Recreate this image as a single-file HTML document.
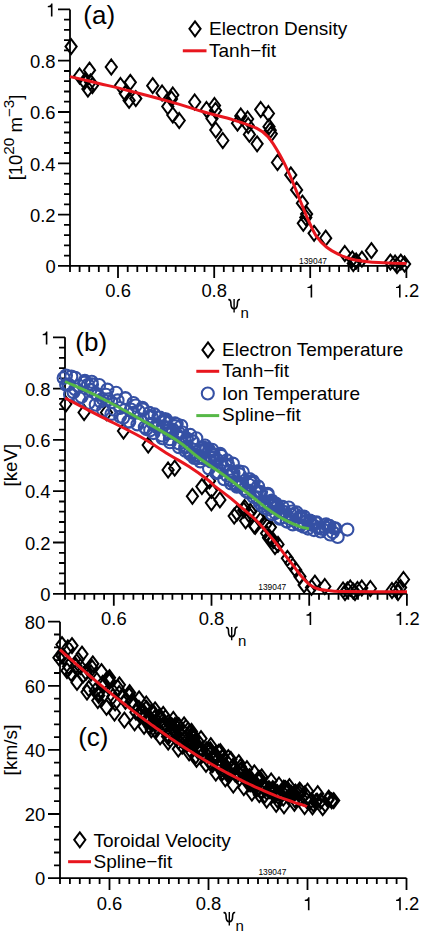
<!DOCTYPE html><html><head><meta charset="utf-8"><style>html,body{margin:0;padding:0;background:#fff;width:421px;height:938px;overflow:hidden}svg{display:block}.t{font-family:"Liberation Sans", sans-serif;font-size:18.4px;fill:#000}.yl{font-family:"Liberation Sans", sans-serif;font-size:17.5px;fill:#000}.l{font-family:"Liberation Sans", sans-serif;font-size:19px;fill:#000}.s{font-family:"Liberation Sans", sans-serif;font-size:8.4px;fill:#000}.big{font-family:"Liberation Sans", sans-serif;font-size:26px;fill:#000}.sub{font-family:"Liberation Sans", sans-serif;font-size:15px;fill:#000}</style></head><body><svg width="421" height="938" viewBox="0 0 421 938">
<path d="M70 9.4V265.9H406.3M58 265.9H70M64 255.6H70M64 245.4H70M64 235.1H70M64 224.9H70M58 214.6H70M64 204.3H70M64 194.1H70M64 183.8H70M64 173.6H70M58 163.3H70M64 153H70M64 142.8H70M64 132.5H70M64 122.3H70M58 112H70M64 101.7H70M64 91.5H70M64 81.2H70M64 71H70M58 60.7H70M64 50.4H70M64 40.2H70M64 29.9H70M64 19.7H70M58 9.4H70M70 265.9V271.9M79.6 265.9V271.9M89.2 265.9V271.9M98.8 265.9V271.9M108.4 265.9V271.9M118 265.9V277.9M127.7 265.9V271.9M137.3 265.9V271.9M146.9 265.9V271.9M156.5 265.9V271.9M166.1 265.9V271.9M175.7 265.9V271.9M185.3 265.9V271.9M194.9 265.9V271.9M204.5 265.9V271.9M214.2 265.9V277.9M223.8 265.9V271.9M233.4 265.9V271.9M243 265.9V271.9M252.6 265.9V271.9M262.2 265.9V271.9M271.8 265.9V271.9M281.4 265.9V271.9M291 265.9V271.9M300.6 265.9V271.9M310.2 265.9V277.9M319.9 265.9V271.9M329.5 265.9V271.9M339.1 265.9V271.9M348.7 265.9V271.9M358.3 265.9V271.9M367.9 265.9V271.9M377.5 265.9V271.9M387.1 265.9V271.9M396.7 265.9V271.9M406.4 265.9V277.9" fill="none" stroke="#000" stroke-width="1.8" stroke-linecap="butt"/>
<text x="45.4" y="273.1" class="t">0</text>
<text x="30" y="221.8" class="t">0.2</text>
<text x="30" y="170.5" class="t">0.4</text>
<text x="30" y="119.2" class="t">0.6</text>
<text x="30" y="67.9" class="t">0.8</text>
<path d="M52.5 16.6L52.5 3.6L51.2 3.6C50.9 5 49.8 6 47.8 6.1L47.8 7.3L50.9 7.3L50.9 16.6Z"/>
<text x="105.3" y="297.4" class="t">0.6</text>
<text x="201.4" y="297.4" class="t">0.8</text>
<path d="M312.2 297.4L312.2 284.4L311 284.4C310.7 285.8 309.6 286.8 307.5 286.9L307.5 288.1L310.6 288.1L310.6 297.4Z"/>
<path d="M400.6 297.4L400.6 284.4L399.4 284.4C399.1 285.8 398 286.8 396 286.9L396 288.1L399 288.1L399 297.4Z"/><text x="403.8" y="297.4" class="t">.2</text>
<text x="83.3" y="24.3" class="big">(a)</text>
<text transform="translate(22.2 137.5) rotate(-90) scale(1.055 1)" text-anchor="middle" class="yl">[10<tspan dy="-8.5" font-size="14.5">20</tspan><tspan dy="8.5"> m</tspan><tspan dy="-8.5" font-size="14.5">−3</tspan><tspan dy="8.5">]</tspan></text>
<g transform="translate(228.3 299.1) scale(1.0)"><path d="M0 0.6 C2.2 0.2 2.6 2 2.6 4.5 C2.6 8 3.6 9.7 5.8 9.7 C8 9.7 9.1 8 9.1 4.5 C9.1 2 9.5 0.2 11.7 0.4" fill="none" stroke="#000" stroke-width="1.6"/><path d="M5.8 0V13.3" stroke="#000" stroke-width="1.4"/></g>
<text x="240.5" y="317.8" class="sub">n</text>
<text x="299" y="263.5" class="s">139047</text>
<path d="M71.1 39.1L76.7 46.6L71.1 54.1L65.5 46.6ZM79.6 68.5L85.2 76L79.6 83.5L74 76ZM89.5 62.7L95.1 70.2L89.5 77.7L83.9 70.2ZM84.5 74L90.1 81.5L84.5 89L78.9 81.5ZM90.5 74.5L96.1 82L90.5 89.5L84.9 82ZM92.4 78L98 85.5L92.4 93L86.8 85.5ZM87.9 81.5L93.5 89L87.9 96.5L82.3 89ZM111.3 59.5L116.9 67L111.3 74.5L105.7 67ZM120.5 78L126.1 85.5L120.5 93L114.9 85.5ZM130.3 74.8L135.9 82.3L130.3 89.8L124.7 82.3ZM125.3 86L130.9 93.5L125.3 101L119.7 93.5ZM129.1 92.9L134.7 100.4L129.1 107.9L123.5 100.4ZM135.8 91.1L141.4 98.6L135.8 106.1L130.2 98.6ZM152.7 78.2L158.3 85.7L152.7 93.2L147.1 85.7ZM162.1 85.5L167.7 93L162.1 100.5L156.5 93ZM172.8 87.5L178.4 95L172.8 102.5L167.2 95ZM171.5 91.5L177.1 99L171.5 106.5L165.9 99ZM167.8 99L173.4 106.5L167.8 114L162.2 106.5ZM172.8 107.5L178.4 115L172.8 122.5L167.2 115ZM179.2 113L184.8 120.5L179.2 128L173.6 120.5ZM194.7 94.5L200.3 102L194.7 109.5L189.1 102ZM206.5 102L212.1 109.5L206.5 117L200.9 109.5ZM214.5 98L220.1 105.5L214.5 113L208.9 105.5ZM215.5 103L221.1 110.5L215.5 118L209.9 110.5ZM212 111L217.6 118.5L212 126L206.4 118.5ZM215.8 122.5L221.4 130L215.8 137.5L210.2 130ZM222.8 133L228.4 140.5L222.8 148L217.2 140.5ZM240.8 108.5L246.4 116L240.8 123.5L235.2 116ZM247.6 111.5L253.2 119L247.6 126.5L242 119ZM237.5 115.7L243.1 123.2L237.5 130.7L231.9 123.2ZM248.2 118L253.8 125.5L248.2 133L242.6 125.5ZM249.4 126.9L255 134.4L249.4 141.9L243.8 134.4ZM257.1 136.3L262.7 143.8L257.1 151.3L251.5 143.8ZM260.7 102L266.3 109.5L260.7 117L255.1 109.5ZM268.4 106L274 113.5L268.4 121L262.8 113.5ZM269 119.2L274.6 126.7L269 134.2L263.4 126.7ZM270.2 122.8L275.8 130.3L270.2 137.8L264.6 130.3ZM271.3 126.3L276.9 133.8L271.3 141.3L265.7 133.8ZM277.5 155L283.1 162.5L277.5 170L271.9 162.5ZM290.8 167.4L296.4 174.9L290.8 182.4L285.2 174.9ZM296.6 182.4L302.2 189.9L296.6 197.4L291 189.9ZM302.4 195.7L308 203.2L302.4 210.7L296.8 203.2ZM306.6 206.6L312.2 214.1L306.6 221.6L301 214.1ZM305.8 210L311.4 217.5L305.8 225L300.2 217.5ZM303.3 215.8L308.9 223.3L303.3 230.8L297.7 223.3ZM314.1 225.8L319.7 233.3L314.1 240.8L308.5 233.3ZM325.7 230.7L331.3 238.2L325.7 245.7L320.1 238.2ZM344.8 246L350.4 253.5L344.8 261L339.2 253.5ZM352.4 251.5L358 259L352.4 266.5L346.8 259ZM356.2 253.5L361.8 261L356.2 268.5L350.6 261ZM361.9 251.7L367.5 259.2L361.9 266.7L356.3 259.2ZM353.3 256L358.9 263.5L353.3 271L347.7 263.5ZM371.4 243.2L377 250.7L371.4 258.2L365.8 250.7ZM390.4 254.6L396 262.1L390.4 269.6L384.8 262.1ZM395.1 255.5L400.7 263L395.1 270.5L389.5 263ZM400.8 254.6L406.4 262.1L400.8 269.6L395.2 262.1ZM404.6 256.5L410.2 264L404.6 271.5L399 264ZM397 258L402.6 265.5L397 273L391.4 265.5Z" fill="none" stroke="#000" stroke-width="2" stroke-linejoin="miter" stroke-miterlimit="10"/>
<path d="M70 76.6C75 77.8 90 81.3 100 83.7C110 86.1 118.3 88 130 91C141.7 94 157.5 98 170 101.6C182.5 105.1 194.4 109.2 205 112.3C215.6 115.3 224.7 117.2 233.3 119.9C241.9 122.6 250.7 125.3 256.5 128.2C262.3 131 264.3 132.6 268.2 137C272.1 141.4 276.2 148.5 279.8 154.8C283.4 161.1 286.5 167.5 289.8 175C293.1 182.5 296.8 192.2 299.8 199.7C302.9 207.1 305.3 213.6 308.1 219.7C310.9 225.8 313.3 231.8 316.4 236.3C319.4 240.9 322.5 243.9 326.4 247C330.3 250.1 335.7 252.9 340 255C344.3 257.1 347.4 258.2 352 259.3C356.6 260.4 362.6 261.2 367.8 261.8C373 262.4 376.9 262.4 383.3 262.7C389.8 263 402.6 263.4 406.5 263.5" fill="none" stroke="#e8161e" stroke-width="3"/>
<path d="M195 21.3L200.6 28.8L195 36.3L189.4 28.8Z" fill="none" stroke="#000" stroke-width="2" stroke-linejoin="miter" stroke-miterlimit="10"/>
<path d="M182.8 50.8H206.5" stroke="#e8161e" stroke-width="3"/>
<text x="209" y="35.1" class="l">Electron Density</text>
<text x="209" y="57" class="l">Tanh−fit</text>
<path d="M65 337.3V593.8H406.9M53 593.8H65M59 583.5H65M59 573.3H65M59 563H65M59 552.8H65M53 542.5H65M59 532.2H65M59 522H65M59 511.7H65M59 501.5H65M53 491.2H65M59 480.9H65M59 470.7H65M59 460.4H65M59 450.2H65M53 439.9H65M59 429.6H65M59 419.4H65M59 409.1H65M59 398.9H65M53 388.6H65M59 378.3H65M59 368.1H65M59 357.8H65M59 347.6H65M53 337.3H65M65 593.8V599.8M74.8 593.8V599.8M84.5 593.8V599.8M94.3 593.8V599.8M104.1 593.8V599.8M113.8 593.8V605.8M123.6 593.8V599.8M133.4 593.8V599.8M143.1 593.8V599.8M152.9 593.8V599.8M162.7 593.8V599.8M172.4 593.8V599.8M182.2 593.8V599.8M192 593.8V599.8M201.8 593.8V599.8M211.5 593.8V605.8M221.3 593.8V599.8M231.1 593.8V599.8M240.8 593.8V599.8M250.6 593.8V599.8M260.4 593.8V599.8M270.1 593.8V599.8M279.9 593.8V599.8M289.7 593.8V599.8M299.4 593.8V599.8M309.2 593.8V605.8M319 593.8V599.8M328.7 593.8V599.8M338.5 593.8V599.8M348.3 593.8V599.8M358 593.8V599.8M367.8 593.8V599.8M377.6 593.8V599.8M387.3 593.8V599.8M397.1 593.8V599.8M406.9 593.8V605.8" fill="none" stroke="#000" stroke-width="1.8" stroke-linecap="butt"/>
<text x="40.3" y="601" class="t">0</text>
<text x="24.9" y="549.7" class="t">0.2</text>
<text x="24.9" y="498.4" class="t">0.4</text>
<text x="24.9" y="447.1" class="t">0.6</text>
<text x="24.9" y="395.8" class="t">0.8</text>
<path d="M47.4 344.5L47.4 331.5L46.1 331.5C45.8 332.9 44.7 333.9 42.7 334L42.7 335.2L45.8 335.2L45.8 344.5Z"/>
<text x="101.1" y="625" class="t">0.6</text>
<text x="198.7" y="625" class="t">0.8</text>
<path d="M311.2 625L311.2 612L309.9 612C309.6 613.4 308.5 614.4 306.5 614.5L306.5 615.7L309.6 615.7L309.6 625Z"/>
<path d="M401.2 625L401.2 612L399.9 612C399.6 613.4 398.5 614.4 396.5 614.5L396.5 615.7L399.6 615.7L399.6 625Z"/><text x="404.3" y="625" class="t">.2</text>
<text x="75.3" y="351.2" class="big">(b)</text>
<text transform="translate(17.2 465.2) rotate(-90) scale(1.07 1)" text-anchor="middle" class="yl">[keV]</text>
<g transform="translate(225.9 626.9) scale(1.0)"><path d="M0 0.6 C2.2 0.2 2.6 2 2.6 4.5 C2.6 8 3.6 9.7 5.8 9.7 C8 9.7 9.1 8 9.1 4.5 C9.1 2 9.5 0.2 11.7 0.4" fill="none" stroke="#000" stroke-width="1.6"/><path d="M5.8 0V13.3" stroke="#000" stroke-width="1.4"/></g>
<text x="238" y="646.4" class="sub">n</text>
<text x="258.3" y="589.7" class="s">139047</text>
<path d="M65.8 396.5L71.4 404L65.8 411.5L60.2 404ZM84.1 405L89.7 412.5L84.1 420L78.5 412.5ZM106.5 405L112.1 412.5L106.5 420L100.9 412.5ZM123.5 423.5L129.1 431L123.5 438.5L117.9 431ZM148.2 437.5L153.8 445L148.2 452.5L142.6 445ZM168.1 462.5L173.7 470L168.1 477.5L162.5 470ZM174.7 460.7L180.3 468.2L174.7 475.7L169.1 468.2ZM192.4 488.8L198 496.3L192.4 503.8L186.8 496.3ZM201.9 479.1L207.5 486.6L201.9 494.1L196.3 486.6ZM209.5 473.4L215.1 480.9L209.5 488.4L203.9 480.9ZM211.4 482.9L217 490.4L211.4 497.9L205.8 490.4ZM211.4 495.3L217 502.8L211.4 510.3L205.8 502.8ZM219.9 492.4L225.5 499.9L219.9 507.4L214.3 499.9ZM234.2 508.6L239.8 516.1L234.2 523.6L228.6 516.1ZM237 505.7L242.6 513.2L237 520.7L231.4 513.2ZM244.6 500L250.2 507.5L244.6 515L239 507.5ZM245.6 513.3L251.2 520.8L245.6 528.3L240 520.8ZM250.3 503.8L255.9 511.3L250.3 518.8L244.7 511.3ZM254.1 518.1L259.7 525.6L254.1 533.1L248.5 525.6ZM257.9 509.5L263.5 517L257.9 524.5L252.3 517ZM243.8 502.7L249.4 510.2L243.8 517.7L238.2 510.2ZM248.6 506.5L254.2 514L248.6 521.5L243 514ZM255.2 518.9L260.8 526.4L255.2 533.9L249.6 526.4ZM260.9 512.2L266.5 519.7L260.9 527.2L255.3 519.7ZM265.7 517L271.3 524.5L265.7 532L260.1 524.5ZM270.4 519.8L276 527.3L270.4 534.8L264.8 527.3ZM268.5 530.3L274.1 537.8L268.5 545.3L262.9 537.8ZM273.3 533.1L278.9 540.6L273.3 548.1L267.7 540.6ZM278 536.9L283.6 544.4L278 551.9L272.4 544.4ZM266.6 525.8L272.2 533.3L266.6 540.8L261 533.3ZM270 531.6L275.6 539.1L270 546.6L264.4 539.1ZM275 539.1L280.6 546.6L275 554.1L269.4 546.6ZM287.4 550.8L293 558.3L287.4 565.8L281.8 558.3ZM290.8 555.8L296.4 563.3L290.8 570.8L285.2 563.3ZM295.7 562.4L301.3 569.9L295.7 577.4L290.1 569.9ZM299.9 569.1L305.5 576.6L299.9 584.1L294.3 576.6ZM304.1 577.4L309.7 584.9L304.1 592.4L298.5 584.9ZM311.5 579.9L317.1 587.4L311.5 594.9L305.9 587.4ZM314.9 575.7L320.5 583.2L314.9 590.7L309.3 583.2ZM324.8 579L330.4 586.5L324.8 594L319.2 586.5ZM343.1 582.5L348.7 590L343.1 597.5L337.5 590ZM347.4 582.5L353 590L347.4 597.5L341.8 590ZM350.3 580.5L355.9 588L350.3 595.5L344.7 588ZM353.2 583.5L358.8 591L353.2 598.5L347.6 591ZM357.5 582L363.1 589.5L357.5 597L351.9 589.5ZM361.8 580.5L367.4 588L361.8 595.5L356.2 588ZM370.4 581L376 588.5L370.4 596L364.8 588.5ZM355 585L360.6 592.5L355 600L349.4 592.5ZM345 585L350.6 592.5L345 600L339.4 592.5ZM392 583L397.6 590.5L392 598L386.4 590.5ZM396.3 581.5L401.9 589L396.3 596.5L390.7 589ZM400.6 580L406.2 587.5L400.6 595L395 587.5ZM403.5 572L409.1 579.5L403.5 587L397.9 579.5ZM398 585L403.6 592.5L398 600L392.4 592.5Z" fill="none" stroke="#000" stroke-width="2" stroke-linejoin="miter" stroke-miterlimit="10"/>
<path d="M57.6 378.1a6.0 6.0 0 1 0 12 0a6.0 6.0 0 1 0 -12 0M60.1 384.7a6.0 6.0 0 1 0 12 0a6.0 6.0 0 1 0 -12 0M62.5 384.4a6.0 6.0 0 1 0 12 0a6.0 6.0 0 1 0 -12 0M65.3 376.6a6.0 6.0 0 1 0 12 0a6.0 6.0 0 1 0 -12 0M67.5 392.2a6.0 6.0 0 1 0 12 0a6.0 6.0 0 1 0 -12 0M69.2 389.2a6.0 6.0 0 1 0 12 0a6.0 6.0 0 1 0 -12 0M73.3 386a6.0 6.0 0 1 0 12 0a6.0 6.0 0 1 0 -12 0M75.6 396.8a6.0 6.0 0 1 0 12 0a6.0 6.0 0 1 0 -12 0M78.2 382.6a6.0 6.0 0 1 0 12 0a6.0 6.0 0 1 0 -12 0M81.9 384.8a6.0 6.0 0 1 0 12 0a6.0 6.0 0 1 0 -12 0M84.4 389.9a6.0 6.0 0 1 0 12 0a6.0 6.0 0 1 0 -12 0M86 384.4a6.0 6.0 0 1 0 12 0a6.0 6.0 0 1 0 -12 0M89.5 393.3a6.0 6.0 0 1 0 12 0a6.0 6.0 0 1 0 -12 0M91.8 394.9a6.0 6.0 0 1 0 12 0a6.0 6.0 0 1 0 -12 0M94.6 401.4a6.0 6.0 0 1 0 12 0a6.0 6.0 0 1 0 -12 0M96.5 398.7a6.0 6.0 0 1 0 12 0a6.0 6.0 0 1 0 -12 0M100.1 394.8a6.0 6.0 0 1 0 12 0a6.0 6.0 0 1 0 -12 0M102.2 399.3a6.0 6.0 0 1 0 12 0a6.0 6.0 0 1 0 -12 0M105.3 402.3a6.0 6.0 0 1 0 12 0a6.0 6.0 0 1 0 -12 0M108.4 409.7a6.0 6.0 0 1 0 12 0a6.0 6.0 0 1 0 -12 0M111.6 400.4a6.0 6.0 0 1 0 12 0a6.0 6.0 0 1 0 -12 0M114.1 408a6.0 6.0 0 1 0 12 0a6.0 6.0 0 1 0 -12 0M117.2 417.8a6.0 6.0 0 1 0 12 0a6.0 6.0 0 1 0 -12 0M119.5 398.4a6.0 6.0 0 1 0 12 0a6.0 6.0 0 1 0 -12 0M122.4 421.4a6.0 6.0 0 1 0 12 0a6.0 6.0 0 1 0 -12 0M124.9 409.5a6.0 6.0 0 1 0 12 0a6.0 6.0 0 1 0 -12 0M127.3 412.7a6.0 6.0 0 1 0 12 0a6.0 6.0 0 1 0 -12 0M129.7 405.5a6.0 6.0 0 1 0 12 0a6.0 6.0 0 1 0 -12 0M132.8 411.3a6.0 6.0 0 1 0 12 0a6.0 6.0 0 1 0 -12 0M136.8 409.5a6.0 6.0 0 1 0 12 0a6.0 6.0 0 1 0 -12 0M138.8 427.2a6.0 6.0 0 1 0 12 0a6.0 6.0 0 1 0 -12 0M142.6 416.9a6.0 6.0 0 1 0 12 0a6.0 6.0 0 1 0 -12 0M144.2 430.2a6.0 6.0 0 1 0 12 0a6.0 6.0 0 1 0 -12 0M145.6 416.8a6.0 6.0 0 1 0 12 0a6.0 6.0 0 1 0 -12 0M146.9 423.6a6.0 6.0 0 1 0 12 0a6.0 6.0 0 1 0 -12 0M148.5 414.4a6.0 6.0 0 1 0 12 0a6.0 6.0 0 1 0 -12 0M150 426.6a6.0 6.0 0 1 0 12 0a6.0 6.0 0 1 0 -12 0M152.5 426.4a6.0 6.0 0 1 0 12 0a6.0 6.0 0 1 0 -12 0M154 417.5a6.0 6.0 0 1 0 12 0a6.0 6.0 0 1 0 -12 0M156 435.5a6.0 6.0 0 1 0 12 0a6.0 6.0 0 1 0 -12 0M156.9 426.2a6.0 6.0 0 1 0 12 0a6.0 6.0 0 1 0 -12 0M158.4 419.6a6.0 6.0 0 1 0 12 0a6.0 6.0 0 1 0 -12 0M158.5 422.1a6.0 6.0 0 1 0 12 0a6.0 6.0 0 1 0 -12 0M159.4 419.2a6.0 6.0 0 1 0 12 0a6.0 6.0 0 1 0 -12 0M160.6 427.4a6.0 6.0 0 1 0 12 0a6.0 6.0 0 1 0 -12 0M163.1 433.1a6.0 6.0 0 1 0 12 0a6.0 6.0 0 1 0 -12 0M162.9 427.9a6.0 6.0 0 1 0 12 0a6.0 6.0 0 1 0 -12 0M163.9 439.2a6.0 6.0 0 1 0 12 0a6.0 6.0 0 1 0 -12 0M166.4 432.2a6.0 6.0 0 1 0 12 0a6.0 6.0 0 1 0 -12 0M166.7 429.6a6.0 6.0 0 1 0 12 0a6.0 6.0 0 1 0 -12 0M169.3 426.2a6.0 6.0 0 1 0 12 0a6.0 6.0 0 1 0 -12 0M170.5 434.6a6.0 6.0 0 1 0 12 0a6.0 6.0 0 1 0 -12 0M170.7 424.2a6.0 6.0 0 1 0 12 0a6.0 6.0 0 1 0 -12 0M173 443.4a6.0 6.0 0 1 0 12 0a6.0 6.0 0 1 0 -12 0M173.2 433.2a6.0 6.0 0 1 0 12 0a6.0 6.0 0 1 0 -12 0M175.3 437.8a6.0 6.0 0 1 0 12 0a6.0 6.0 0 1 0 -12 0M176.1 432.3a6.0 6.0 0 1 0 12 0a6.0 6.0 0 1 0 -12 0M179.1 447.6a6.0 6.0 0 1 0 12 0a6.0 6.0 0 1 0 -12 0M180.5 446.5a6.0 6.0 0 1 0 12 0a6.0 6.0 0 1 0 -12 0M181 439.4a6.0 6.0 0 1 0 12 0a6.0 6.0 0 1 0 -12 0M180.9 438.6a6.0 6.0 0 1 0 12 0a6.0 6.0 0 1 0 -12 0M183.4 453.4a6.0 6.0 0 1 0 12 0a6.0 6.0 0 1 0 -12 0M185.3 455a6.0 6.0 0 1 0 12 0a6.0 6.0 0 1 0 -12 0M186 440.9a6.0 6.0 0 1 0 12 0a6.0 6.0 0 1 0 -12 0M186.8 441.3a6.0 6.0 0 1 0 12 0a6.0 6.0 0 1 0 -12 0M189.7 455.2a6.0 6.0 0 1 0 12 0a6.0 6.0 0 1 0 -12 0M190.6 455.3a6.0 6.0 0 1 0 12 0a6.0 6.0 0 1 0 -12 0M191.6 458.2a6.0 6.0 0 1 0 12 0a6.0 6.0 0 1 0 -12 0M193.4 450.6a6.0 6.0 0 1 0 12 0a6.0 6.0 0 1 0 -12 0M194.6 448.3a6.0 6.0 0 1 0 12 0a6.0 6.0 0 1 0 -12 0M196.7 450.8a6.0 6.0 0 1 0 12 0a6.0 6.0 0 1 0 -12 0M197.9 458.4a6.0 6.0 0 1 0 12 0a6.0 6.0 0 1 0 -12 0M197.3 447.3a6.0 6.0 0 1 0 12 0a6.0 6.0 0 1 0 -12 0M200.5 448.4a6.0 6.0 0 1 0 12 0a6.0 6.0 0 1 0 -12 0M202.6 460.2a6.0 6.0 0 1 0 12 0a6.0 6.0 0 1 0 -12 0M203 450a6.0 6.0 0 1 0 12 0a6.0 6.0 0 1 0 -12 0M204.7 461.5a6.0 6.0 0 1 0 12 0a6.0 6.0 0 1 0 -12 0M206.1 457.9a6.0 6.0 0 1 0 12 0a6.0 6.0 0 1 0 -12 0M207.6 454.4a6.0 6.0 0 1 0 12 0a6.0 6.0 0 1 0 -12 0M207.7 455.8a6.0 6.0 0 1 0 12 0a6.0 6.0 0 1 0 -12 0M209.1 460.6a6.0 6.0 0 1 0 12 0a6.0 6.0 0 1 0 -12 0M211.5 459.9a6.0 6.0 0 1 0 12 0a6.0 6.0 0 1 0 -12 0M212.2 472.6a6.0 6.0 0 1 0 12 0a6.0 6.0 0 1 0 -12 0M214.2 464.8a6.0 6.0 0 1 0 12 0a6.0 6.0 0 1 0 -12 0M214.8 455.4a6.0 6.0 0 1 0 12 0a6.0 6.0 0 1 0 -12 0M215.5 455.9a6.0 6.0 0 1 0 12 0a6.0 6.0 0 1 0 -12 0M217.1 467.1a6.0 6.0 0 1 0 12 0a6.0 6.0 0 1 0 -12 0M219.5 464.9a6.0 6.0 0 1 0 12 0a6.0 6.0 0 1 0 -12 0M221 475.5a6.0 6.0 0 1 0 12 0a6.0 6.0 0 1 0 -12 0M222 464.8a6.0 6.0 0 1 0 12 0a6.0 6.0 0 1 0 -12 0M223.6 471.1a6.0 6.0 0 1 0 12 0a6.0 6.0 0 1 0 -12 0M225 480.5a6.0 6.0 0 1 0 12 0a6.0 6.0 0 1 0 -12 0M226.1 472.9a6.0 6.0 0 1 0 12 0a6.0 6.0 0 1 0 -12 0M227.6 472.9a6.0 6.0 0 1 0 12 0a6.0 6.0 0 1 0 -12 0M228.6 483.6a6.0 6.0 0 1 0 12 0a6.0 6.0 0 1 0 -12 0M231 484.6a6.0 6.0 0 1 0 12 0a6.0 6.0 0 1 0 -12 0M231.6 485.4a6.0 6.0 0 1 0 12 0a6.0 6.0 0 1 0 -12 0M232.4 471.1a6.0 6.0 0 1 0 12 0a6.0 6.0 0 1 0 -12 0M233.7 474.4a6.0 6.0 0 1 0 12 0a6.0 6.0 0 1 0 -12 0M235.8 485a6.0 6.0 0 1 0 12 0a6.0 6.0 0 1 0 -12 0M236.6 485a6.0 6.0 0 1 0 12 0a6.0 6.0 0 1 0 -12 0M238.1 488.9a6.0 6.0 0 1 0 12 0a6.0 6.0 0 1 0 -12 0M240.2 491.2a6.0 6.0 0 1 0 12 0a6.0 6.0 0 1 0 -12 0M242 492.6a6.0 6.0 0 1 0 12 0a6.0 6.0 0 1 0 -12 0M243.1 484.7a6.0 6.0 0 1 0 12 0a6.0 6.0 0 1 0 -12 0M244.8 482.4a6.0 6.0 0 1 0 12 0a6.0 6.0 0 1 0 -12 0M246.8 481a6.0 6.0 0 1 0 12 0a6.0 6.0 0 1 0 -12 0M247.7 482.6a6.0 6.0 0 1 0 12 0a6.0 6.0 0 1 0 -12 0M249.3 491.9a6.0 6.0 0 1 0 12 0a6.0 6.0 0 1 0 -12 0M251 497.4a6.0 6.0 0 1 0 12 0a6.0 6.0 0 1 0 -12 0M251.1 491.1a6.0 6.0 0 1 0 12 0a6.0 6.0 0 1 0 -12 0M253.4 492a6.0 6.0 0 1 0 12 0a6.0 6.0 0 1 0 -12 0M253.7 503a6.0 6.0 0 1 0 12 0a6.0 6.0 0 1 0 -12 0M255.1 492.1a6.0 6.0 0 1 0 12 0a6.0 6.0 0 1 0 -12 0M257.5 502.3a6.0 6.0 0 1 0 12 0a6.0 6.0 0 1 0 -12 0M257.5 502.9a6.0 6.0 0 1 0 12 0a6.0 6.0 0 1 0 -12 0M258.9 507.9a6.0 6.0 0 1 0 12 0a6.0 6.0 0 1 0 -12 0M261.9 495.3a6.0 6.0 0 1 0 12 0a6.0 6.0 0 1 0 -12 0M262.1 509.2a6.0 6.0 0 1 0 12 0a6.0 6.0 0 1 0 -12 0M264 505.3a6.0 6.0 0 1 0 12 0a6.0 6.0 0 1 0 -12 0M265.7 500.6a6.0 6.0 0 1 0 12 0a6.0 6.0 0 1 0 -12 0M267.1 501.9a6.0 6.0 0 1 0 12 0a6.0 6.0 0 1 0 -12 0M267.8 504.5a6.0 6.0 0 1 0 12 0a6.0 6.0 0 1 0 -12 0M269.5 513.1a6.0 6.0 0 1 0 12 0a6.0 6.0 0 1 0 -12 0M271.1 505.5a6.0 6.0 0 1 0 12 0a6.0 6.0 0 1 0 -12 0M271.4 507.1a6.0 6.0 0 1 0 12 0a6.0 6.0 0 1 0 -12 0M273.7 511.8a6.0 6.0 0 1 0 12 0a6.0 6.0 0 1 0 -12 0M274.3 517.7a6.0 6.0 0 1 0 12 0a6.0 6.0 0 1 0 -12 0M276.7 511.5a6.0 6.0 0 1 0 12 0a6.0 6.0 0 1 0 -12 0M279 512a6.0 6.0 0 1 0 12 0a6.0 6.0 0 1 0 -12 0M281.1 521.6a6.0 6.0 0 1 0 12 0a6.0 6.0 0 1 0 -12 0M283.4 518.7a6.0 6.0 0 1 0 12 0a6.0 6.0 0 1 0 -12 0M285.1 514.7a6.0 6.0 0 1 0 12 0a6.0 6.0 0 1 0 -12 0M286.2 511.5a6.0 6.0 0 1 0 12 0a6.0 6.0 0 1 0 -12 0M289.1 514.2a6.0 6.0 0 1 0 12 0a6.0 6.0 0 1 0 -12 0M292 524a6.0 6.0 0 1 0 12 0a6.0 6.0 0 1 0 -12 0M293.4 517.3a6.0 6.0 0 1 0 12 0a6.0 6.0 0 1 0 -12 0M295.8 517.3a6.0 6.0 0 1 0 12 0a6.0 6.0 0 1 0 -12 0M297.6 526.7a6.0 6.0 0 1 0 12 0a6.0 6.0 0 1 0 -12 0M301.1 520.7a6.0 6.0 0 1 0 12 0a6.0 6.0 0 1 0 -12 0M303.6 522.8a6.0 6.0 0 1 0 12 0a6.0 6.0 0 1 0 -12 0M305.3 524.3a6.0 6.0 0 1 0 12 0a6.0 6.0 0 1 0 -12 0M307.3 525.3a6.0 6.0 0 1 0 12 0a6.0 6.0 0 1 0 -12 0M309 522.2a6.0 6.0 0 1 0 12 0a6.0 6.0 0 1 0 -12 0M310.7 522.4a6.0 6.0 0 1 0 12 0a6.0 6.0 0 1 0 -12 0M313.1 527.6a6.0 6.0 0 1 0 12 0a6.0 6.0 0 1 0 -12 0M316.5 529a6.0 6.0 0 1 0 12 0a6.0 6.0 0 1 0 -12 0M319.4 527.6a6.0 6.0 0 1 0 12 0a6.0 6.0 0 1 0 -12 0M321.6 526.1a6.0 6.0 0 1 0 12 0a6.0 6.0 0 1 0 -12 0M323.6 525.9a6.0 6.0 0 1 0 12 0a6.0 6.0 0 1 0 -12 0M326.8 532.2a6.0 6.0 0 1 0 12 0a6.0 6.0 0 1 0 -12 0M329.3 528.3a6.0 6.0 0 1 0 12 0a6.0 6.0 0 1 0 -12 0M60 375.6a6.0 6.0 0 1 0 12 0a6.0 6.0 0 1 0 -12 0M64 394.6a6.0 6.0 0 1 0 12 0a6.0 6.0 0 1 0 -12 0M69.2 377.7a6.0 6.0 0 1 0 12 0a6.0 6.0 0 1 0 -12 0M73.2 398.1a6.0 6.0 0 1 0 12 0a6.0 6.0 0 1 0 -12 0M78.8 380.8a6.0 6.0 0 1 0 12 0a6.0 6.0 0 1 0 -12 0M82.8 402.7a6.0 6.0 0 1 0 12 0a6.0 6.0 0 1 0 -12 0M85.7 381.8a6.0 6.0 0 1 0 12 0a6.0 6.0 0 1 0 -12 0M89.7 404.7a6.0 6.0 0 1 0 12 0a6.0 6.0 0 1 0 -12 0M93.2 385a6.0 6.0 0 1 0 12 0a6.0 6.0 0 1 0 -12 0M97.2 410.2a6.0 6.0 0 1 0 12 0a6.0 6.0 0 1 0 -12 0M101.4 389.6a6.0 6.0 0 1 0 12 0a6.0 6.0 0 1 0 -12 0M105.4 413.9a6.0 6.0 0 1 0 12 0a6.0 6.0 0 1 0 -12 0M110.1 392.8a6.0 6.0 0 1 0 12 0a6.0 6.0 0 1 0 -12 0M114.1 416.6a6.0 6.0 0 1 0 12 0a6.0 6.0 0 1 0 -12 0M119.3 398a6.0 6.0 0 1 0 12 0a6.0 6.0 0 1 0 -12 0M123.3 421.8a6.0 6.0 0 1 0 12 0a6.0 6.0 0 1 0 -12 0M127.4 403a6.0 6.0 0 1 0 12 0a6.0 6.0 0 1 0 -12 0M131.4 424.4a6.0 6.0 0 1 0 12 0a6.0 6.0 0 1 0 -12 0M136.4 407.7a6.0 6.0 0 1 0 12 0a6.0 6.0 0 1 0 -12 0M140.4 429.1a6.0 6.0 0 1 0 12 0a6.0 6.0 0 1 0 -12 0M143.5 412.9a6.0 6.0 0 1 0 12 0a6.0 6.0 0 1 0 -12 0M147.5 433.1a6.0 6.0 0 1 0 12 0a6.0 6.0 0 1 0 -12 0M152.4 417.3a6.0 6.0 0 1 0 12 0a6.0 6.0 0 1 0 -12 0M156.4 438.3a6.0 6.0 0 1 0 12 0a6.0 6.0 0 1 0 -12 0M159.9 419.2a6.0 6.0 0 1 0 12 0a6.0 6.0 0 1 0 -12 0M163.9 442.3a6.0 6.0 0 1 0 12 0a6.0 6.0 0 1 0 -12 0M169 423.4a6.0 6.0 0 1 0 12 0a6.0 6.0 0 1 0 -12 0M173 447.3a6.0 6.0 0 1 0 12 0a6.0 6.0 0 1 0 -12 0M175.3 425.7a6.0 6.0 0 1 0 12 0a6.0 6.0 0 1 0 -12 0M179.3 450.8a6.0 6.0 0 1 0 12 0a6.0 6.0 0 1 0 -12 0M184.3 434.9a6.0 6.0 0 1 0 12 0a6.0 6.0 0 1 0 -12 0M188.3 457.9a6.0 6.0 0 1 0 12 0a6.0 6.0 0 1 0 -12 0M190.3 438.3a6.0 6.0 0 1 0 12 0a6.0 6.0 0 1 0 -12 0M194.3 461.4a6.0 6.0 0 1 0 12 0a6.0 6.0 0 1 0 -12 0M199 445.5a6.0 6.0 0 1 0 12 0a6.0 6.0 0 1 0 -12 0M203 468.5a6.0 6.0 0 1 0 12 0a6.0 6.0 0 1 0 -12 0M206.2 449.7a6.0 6.0 0 1 0 12 0a6.0 6.0 0 1 0 -12 0M210.2 473a6.0 6.0 0 1 0 12 0a6.0 6.0 0 1 0 -12 0M214.1 453.8a6.0 6.0 0 1 0 12 0a6.0 6.0 0 1 0 -12 0M218.1 479.2a6.0 6.0 0 1 0 12 0a6.0 6.0 0 1 0 -12 0M220.9 460.4a6.0 6.0 0 1 0 12 0a6.0 6.0 0 1 0 -12 0M224.9 483.4a6.0 6.0 0 1 0 12 0a6.0 6.0 0 1 0 -12 0M226.9 463.6a6.0 6.0 0 1 0 12 0a6.0 6.0 0 1 0 -12 0M230.9 486.7a6.0 6.0 0 1 0 12 0a6.0 6.0 0 1 0 -12 0M236.8 472a6.0 6.0 0 1 0 12 0a6.0 6.0 0 1 0 -12 0M240.8 491.2a6.0 6.0 0 1 0 12 0a6.0 6.0 0 1 0 -12 0M243.6 479.1a6.0 6.0 0 1 0 12 0a6.0 6.0 0 1 0 -12 0M247.6 497.1a6.0 6.0 0 1 0 12 0a6.0 6.0 0 1 0 -12 0M252 486.3a6.0 6.0 0 1 0 12 0a6.0 6.0 0 1 0 -12 0M256 505.8a6.0 6.0 0 1 0 12 0a6.0 6.0 0 1 0 -12 0M261.8 493.7a6.0 6.0 0 1 0 12 0a6.0 6.0 0 1 0 -12 0M265.8 514.1a6.0 6.0 0 1 0 12 0a6.0 6.0 0 1 0 -12 0M269.8 503.6a6.0 6.0 0 1 0 12 0a6.0 6.0 0 1 0 -12 0M273.8 518.7a6.0 6.0 0 1 0 12 0a6.0 6.0 0 1 0 -12 0M276.7 506.9a6.0 6.0 0 1 0 12 0a6.0 6.0 0 1 0 -12 0M280.7 521.6a6.0 6.0 0 1 0 12 0a6.0 6.0 0 1 0 -12 0M282.8 507.5a6.0 6.0 0 1 0 12 0a6.0 6.0 0 1 0 -12 0M286.8 524.4a6.0 6.0 0 1 0 12 0a6.0 6.0 0 1 0 -12 0M290.6 512.4a6.0 6.0 0 1 0 12 0a6.0 6.0 0 1 0 -12 0M294.6 525.2a6.0 6.0 0 1 0 12 0a6.0 6.0 0 1 0 -12 0M298 516.5a6.0 6.0 0 1 0 12 0a6.0 6.0 0 1 0 -12 0M302 528.6a6.0 6.0 0 1 0 12 0a6.0 6.0 0 1 0 -12 0M304 520.5a6.0 6.0 0 1 0 12 0a6.0 6.0 0 1 0 -12 0M308 530.1a6.0 6.0 0 1 0 12 0a6.0 6.0 0 1 0 -12 0M310.5 523.1a6.0 6.0 0 1 0 12 0a6.0 6.0 0 1 0 -12 0M314.5 531.5a6.0 6.0 0 1 0 12 0a6.0 6.0 0 1 0 -12 0M320.1 524.4a6.0 6.0 0 1 0 12 0a6.0 6.0 0 1 0 -12 0M324.1 534.5a6.0 6.0 0 1 0 12 0a6.0 6.0 0 1 0 -12 0M327.7 528.1a6.0 6.0 0 1 0 12 0a6.0 6.0 0 1 0 -12 0M331.7 537a6.0 6.0 0 1 0 12 0a6.0 6.0 0 1 0 -12 0M341.4 529.6a6.0 6.0 0 1 0 12 0a6.0 6.0 0 1 0 -12 0" fill="none" stroke="#3550a4" stroke-width="2.1"/>
<path d="M65 398C70.8 401 87.5 409.7 100 416.1C112.5 422.5 128.3 430 140 436.5C151.7 443 161.8 450.2 170 455.2C178.2 460.2 182.7 462.5 189 466.6C195.3 470.7 203.7 476.7 208 480C212.3 483.3 211.4 483.5 215 486.4C218.6 489.2 224.6 493.3 229.3 497.1C234.1 500.9 238.8 505.1 243.5 509.2C248.2 513.4 252.6 516.5 257.8 522C263.1 527.5 270.5 536.5 275 542C279.5 547.5 281.8 550.9 284.9 554.9C287.9 558.9 290.5 562.1 293.3 565.7C296.1 569.3 298.8 573.4 301.6 576.6C304.4 579.8 307.1 582.8 309.9 584.9C312.7 587 314.8 588 318.2 589C321.6 590 325.5 590.3 330 590.7C334.5 591.1 332.2 591.2 345 591.4C357.8 591.6 396.7 591.7 407 591.8" fill="none" stroke="#e8161e" stroke-width="3"/>
<path d="M65 381.5C70.8 384.2 87.5 391.2 100 397.5C112.5 403.8 127.2 411.8 140 419C152.8 426.2 167.2 434.1 177 440.5C186.8 446.9 190.2 451.3 198.5 457.5C206.8 463.7 218.4 471.2 227 477.5C235.6 483.8 243.4 489.9 250 495C256.6 500.1 261.1 504.3 266.6 508.3C272.2 512.3 277.8 516.1 283.3 519.1C288.9 522.1 295.6 525 299.9 526.6C304.2 528.2 307.5 528.3 309 528.6" fill="none" stroke="#56b847" stroke-width="3"/>
<path d="M208 342.4L213.6 349.9L208 357.4L202.4 349.9Z" fill="none" stroke="#000" stroke-width="2" stroke-linejoin="miter" stroke-miterlimit="10"/>
<path d="M196.3 371.3H219.2" stroke="#e8161e" stroke-width="3"/>
<path d="M201.8 393.5a6.0 6.0 0 1 0 12 0a6.0 6.0 0 1 0 -12 0" fill="none" stroke="#3550a4" stroke-width="2.1"/>
<path d="M196.3 415.6H219.2" stroke="#56b847" stroke-width="3"/>
<text x="222" y="356.4" class="l">Electron Temperature</text>
<text x="222" y="377.3" class="l">Tanh−fit</text>
<text x="222" y="400" class="l">Ion Temperature</text>
<text x="222" y="421.4" class="l">Spline−fit</text>
<path d="M60 621.7V878.1H406.5M48 878.1H60M54 865.3H60M54 852.5H60M54 839.6H60M54 826.8H60M48 814H60M54 801.2H60M54 788.4H60M54 775.5H60M54 762.7H60M48 749.9H60M54 737.1H60M54 724.3H60M54 711.4H60M54 698.6H60M48 685.8H60M54 673H60M54 660.2H60M54 647.3H60M54 634.5H60M48 621.7H60M60 878.1V884.1M69.9 878.1V884.1M79.8 878.1V884.1M89.7 878.1V884.1M99.6 878.1V884.1M109.5 878.1V890.1M119.4 878.1V884.1M129.3 878.1V884.1M139.2 878.1V884.1M149.1 878.1V884.1M159 878.1V884.1M168.9 878.1V884.1M178.8 878.1V884.1M188.7 878.1V884.1M198.6 878.1V884.1M208.5 878.1V890.1M218.4 878.1V884.1M228.3 878.1V884.1M238.2 878.1V884.1M248.1 878.1V884.1M258 878.1V884.1M267.9 878.1V884.1M277.8 878.1V884.1M287.7 878.1V884.1M297.6 878.1V884.1M307.5 878.1V890.1M317.4 878.1V884.1M327.3 878.1V884.1M337.2 878.1V884.1M347.1 878.1V884.1M357 878.1V884.1M366.9 878.1V884.1M376.8 878.1V884.1M386.7 878.1V884.1M396.6 878.1V884.1M406.5 878.1V890.1" fill="none" stroke="#000" stroke-width="1.8" stroke-linecap="butt"/>
<text x="35.1" y="885.3" class="t">0</text>
<text x="24.8" y="821.2" class="t">20</text>
<text x="24.8" y="757.1" class="t">40</text>
<text x="24.8" y="693" class="t">60</text>
<text x="24.8" y="628.9" class="t">80</text>
<text x="96.7" y="910.3" class="t">0.6</text>
<text x="195.7" y="910.3" class="t">0.8</text>
<path d="M309.5 910.3L309.5 897.3L308.2 897.3C307.9 898.7 306.8 899.7 304.8 899.8L304.8 901L307.9 901L307.9 910.3Z"/>
<path d="M400.8 910.3L400.8 897.3L399.6 897.3C399.2 898.7 398.1 899.7 396.1 899.8L396.1 901L399.2 901L399.2 910.3Z"/><text x="403.9" y="910.3" class="t">.2</text>
<text x="78.2" y="746.4" class="big">(c)</text>
<text transform="translate(17 750) rotate(-90) scale(1.09 1)" text-anchor="middle" class="yl">[km/s]</text>
<g transform="translate(223.5 912.1) scale(1.0)"><path d="M0 0.6 C2.2 0.2 2.6 2 2.6 4.5 C2.6 8 3.6 9.7 5.8 9.7 C8 9.7 9.1 8 9.1 4.5 C9.1 2 9.5 0.2 11.7 0.4" fill="none" stroke="#000" stroke-width="1.6"/><path d="M5.8 0V13.3" stroke="#000" stroke-width="1.4"/></g>
<text x="235.6" y="931.3" class="sub">n</text>
<text x="258.4" y="875" class="s">139047</text>
<path d="M58.9 650.2L64.5 657.7L58.9 665.2L53.3 657.7ZM62 648.5L67.6 656L62 663.5L56.4 656ZM64 649.5L69.6 657L64 664.5L58.4 657ZM67.8 640.4L73.4 647.9L67.8 655.4L62.2 647.9ZM68.5 658.9L74.1 666.4L68.5 673.9L62.9 666.4ZM71.1 665.9L76.7 673.4L71.1 680.9L65.5 673.4ZM75.5 659L81.1 666.5L75.5 674L69.9 666.5ZM76 658.4L81.6 665.9L76 673.4L70.4 665.9ZM78.1 652.3L83.7 659.8L78.1 667.3L72.5 659.8ZM80.3 659.2L85.9 666.7L80.3 674.2L74.7 666.7ZM83.3 667.4L88.9 674.9L83.3 682.4L77.7 674.9ZM86 664.8L91.6 672.3L86 679.8L80.4 672.3ZM88.7 681.2L94.3 688.7L88.7 696.2L83.1 688.7ZM91.1 665.5L96.7 673L91.1 680.5L85.5 673ZM92.2 660.4L97.8 667.9L92.2 675.4L86.6 667.9ZM95.3 683.5L100.9 691L95.3 698.5L89.7 691ZM98.6 685.2L104.2 692.7L98.6 700.2L93 692.7ZM98.7 688.1L104.3 695.6L98.7 703.1L93.1 695.6ZM102.6 676L108.2 683.5L102.6 691L97 683.5ZM103.6 687.6L109.2 695.1L103.6 702.6L98 695.1ZM104.6 677L110.2 684.5L104.6 692L99 684.5ZM109.1 673.6L114.7 681.1L109.1 688.6L103.5 681.1ZM109.7 673.5L115.3 681L109.7 688.5L104.1 681ZM112.8 689.1L118.4 696.6L112.8 704.1L107.2 696.6ZM115.1 695.4L120.7 702.9L115.1 710.4L109.5 702.9ZM117.8 680.2L123.4 687.7L117.8 695.2L112.2 687.7ZM119.2 686L124.8 693.5L119.2 701L113.6 693.5ZM123.6 689.2L129.2 696.7L123.6 704.2L118 696.7ZM125.4 693.8L131 701.3L125.4 708.8L119.8 701.3ZM129.2 688.1L134.8 695.6L129.2 703.1L123.6 695.6ZM131.6 694.2L137.2 701.7L131.6 709.2L126 701.7ZM134.6 696.8L140.2 704.3L134.6 711.8L129 704.3ZM135.9 704.7L141.5 712.2L135.9 719.7L130.3 712.2ZM138.9 700.8L144.5 708.3L138.9 715.8L133.3 708.3ZM141.9 704.6L147.5 712.1L141.9 719.6L136.3 712.1ZM144.3 699.4L149.9 706.9L144.3 714.4L138.7 706.9ZM146.2 713.9L151.8 721.4L146.2 728.9L140.6 721.4ZM146.8 713.1L152.4 720.6L146.8 728.1L141.2 720.6ZM149.9 719.3L155.5 726.8L149.9 734.3L144.3 726.8ZM154.4 711L160 718.5L154.4 726L148.8 718.5ZM155.5 723.7L161.1 731.2L155.5 738.7L149.9 731.2ZM159.3 710.5L164.9 718L159.3 725.5L153.7 718ZM162.8 713.6L168.4 721.1L162.8 728.6L157.2 721.1ZM165.4 710.2L171 717.7L165.4 725.2L159.8 717.7ZM167.5 728.9L173.1 736.4L167.5 743.9L161.9 736.4ZM170.2 731.9L175.8 739.4L170.2 746.9L164.6 739.4ZM172.1 718.7L177.7 726.2L172.1 733.7L166.5 726.2ZM175 717.9L180.6 725.4L175 732.9L169.4 725.4ZM178.8 718.2L184.4 725.7L178.8 733.2L173.2 725.7ZM182.2 738.7L187.8 746.2L182.2 753.7L176.6 746.2ZM185.1 731.3L190.7 738.8L185.1 746.3L179.5 738.8ZM186 719.8L191.6 727.3L186 734.8L180.4 727.3ZM191.2 743.9L196.8 751.4L191.2 758.9L185.6 751.4ZM193.1 735.1L198.7 742.6L193.1 750.1L187.5 742.6ZM195.9 748.3L201.5 755.8L195.9 763.3L190.3 755.8ZM198.5 744.6L204.1 752.1L198.5 759.6L192.9 752.1ZM202.7 746.8L208.3 754.3L202.7 761.8L197.1 754.3ZM206.7 742.9L212.3 750.4L206.7 757.9L201.1 750.4ZM210 755.1L215.6 762.6L210 770.1L204.4 762.6ZM212.6 757.1L218.2 764.6L212.6 772.1L207 764.6ZM215.4 749.5L221 757L215.4 764.5L209.8 757ZM218.6 745L224.2 752.5L218.6 760L213 752.5ZM222.6 764.8L228.2 772.3L222.6 779.8L217 772.3ZM224.9 763.7L230.5 771.2L224.9 778.7L219.3 771.2ZM228.1 767.7L233.7 775.2L228.1 782.7L222.5 775.2ZM230.9 752L236.5 759.5L230.9 767L225.3 759.5ZM233.6 758.4L239.2 765.9L233.6 773.4L228 765.9ZM237 768.1L242.6 775.6L237 783.1L231.4 775.6ZM240.4 759.3L246 766.8L240.4 774.3L234.8 766.8ZM243.8 764.4L249.4 771.9L243.8 779.4L238.2 771.9ZM246.6 773.7L252.2 781.2L246.6 788.7L241 781.2ZM249.5 769.2L255.1 776.7L249.5 784.2L243.9 776.7ZM251.4 772.6L257 780.1L251.4 787.6L245.8 780.1ZM256.4 782.2L262 789.7L256.4 797.2L250.8 789.7ZM258.6 773.7L264.2 781.2L258.6 788.7L253 781.2ZM260.7 783.7L266.3 791.2L260.7 798.7L255.1 791.2ZM264.8 787.7L270.4 795.2L264.8 802.7L259.2 795.2ZM266.2 780.5L271.8 788L266.2 795.5L260.6 788ZM268.9 781.2L274.5 788.7L268.9 796.2L263.3 788.7ZM272.7 781.2L278.3 788.7L272.7 796.2L267.1 788.7ZM277.4 785.2L283 792.7L277.4 800.2L271.8 792.7ZM277.6 792.5L283.2 800L277.6 807.5L272 800ZM281 788.3L286.6 795.8L281 803.3L275.4 795.8ZM283.8 780.6L289.4 788.1L283.8 795.6L278.2 788.1ZM285.4 781.1L291 788.6L285.4 796.1L279.8 788.6ZM288.6 783.2L294.2 790.7L288.6 798.2L283 790.7ZM291.5 787.5L297.1 795L291.5 802.5L285.9 795ZM294.8 792.1L300.4 799.6L294.8 807.1L289.2 799.6ZM298.8 785.3L304.4 792.8L298.8 800.3L293.2 792.8ZM300.7 783.8L306.3 791.3L300.7 798.8L295.1 791.3ZM304.8 786.3L310.4 793.8L304.8 801.3L299.2 793.8ZM306.6 792.8L312.2 800.3L306.6 807.8L301 800.3ZM310.2 794.2L315.8 801.7L310.2 809.2L304.6 801.7ZM313.3 796.4L318.9 803.9L313.3 811.4L307.7 803.9ZM315.7 794.5L321.3 802L315.7 809.5L310.1 802ZM317 793.6L322.6 801.1L317 808.6L311.4 801.1ZM320.7 793.6L326.3 801.1L320.7 808.6L315.1 801.1ZM325.3 796.8L330.9 804.3L325.3 811.8L319.7 804.3ZM328 792.4L333.6 799.9L328 807.4L322.4 799.9ZM331.7 793.3L337.3 800.8L331.7 808.3L326.1 800.8ZM139.4 707.3L145 714.8L139.4 722.3L133.8 714.8ZM143.3 704.1L148.9 711.6L143.3 719.1L137.7 711.6ZM144.2 710.8L149.8 718.3L144.2 725.8L138.6 718.3ZM146.5 700.8L152.1 708.3L146.5 715.8L140.9 708.3ZM148.7 711.8L154.3 719.3L148.7 726.8L143.1 719.3ZM149.5 713.6L155.1 721.1L149.5 728.6L143.9 721.1ZM152.4 705.3L158 712.8L152.4 720.3L146.8 712.8ZM154 705.9L159.6 713.4L154 720.9L148.4 713.4ZM154.9 715.5L160.5 723L154.9 730.5L149.3 723ZM157.5 720.4L163.1 727.9L157.5 735.4L151.9 727.9ZM159.9 708.5L165.5 716L159.9 723.5L154.3 716ZM160.6 712.6L166.2 720.1L160.6 727.6L155 720.1ZM162.9 717.6L168.5 725.1L162.9 732.6L157.3 725.1ZM165 715.7L170.6 723.2L165 730.7L159.4 723.2ZM167.3 726.3L172.9 733.8L167.3 741.3L161.7 733.8ZM168.8 728.5L174.4 736L168.8 743.5L163.2 736ZM170.1 716.7L175.7 724.2L170.1 731.7L164.5 724.2ZM171.9 724.6L177.5 732.1L171.9 739.6L166.3 732.1ZM174.1 723.7L179.7 731.2L174.1 738.7L168.5 731.2ZM175.5 725.3L181.1 732.8L175.5 740.3L169.9 732.8ZM177.2 717.5L182.8 725L177.2 732.5L171.6 725ZM178.5 734L184.1 741.5L178.5 749L172.9 741.5ZM180.5 726.6L186.1 734.1L180.5 741.6L174.9 734.1ZM182.3 733.4L187.9 740.9L182.3 748.4L176.7 740.9ZM184.7 725.8L190.3 733.3L184.7 740.8L179.1 733.3ZM186.5 737.3L192.1 744.8L186.5 752.3L180.9 744.8ZM188.2 722.5L193.8 730L188.2 737.5L182.6 730ZM188.6 735.3L194.2 742.8L188.6 750.3L183 742.8ZM190.5 735.4L196.1 742.9L190.5 750.4L184.9 742.9ZM192.7 728.3L198.3 735.8L192.7 743.3L187.1 735.8ZM193.6 731.2L199.2 738.7L193.6 746.2L188 738.7ZM195.9 735.6L201.5 743.1L195.9 750.6L190.3 743.1ZM197.8 733.8L203.4 741.3L197.8 748.8L192.2 741.3ZM199.5 742.1L205.1 749.6L199.5 757.1L193.9 749.6ZM201.9 743.2L207.5 750.7L201.9 758.2L196.3 750.7ZM202.9 746.6L208.5 754.1L202.9 761.6L197.3 754.1ZM206.4 742.5L212 750L206.4 757.5L200.8 750ZM208.1 742.1L213.7 749.6L208.1 757.1L202.5 749.6ZM210.4 742.4L216 749.9L210.4 757.4L204.8 749.9ZM211.7 745.2L217.3 752.7L211.7 760.2L206.1 752.7ZM213.3 748.5L218.9 756L213.3 763.5L207.7 756ZM214 749.4L219.6 756.9L214 764.4L208.4 756.9ZM215.9 747.5L221.5 755L215.9 762.5L210.3 755ZM219.7 760.4L225.3 767.9L219.7 775.4L214.1 767.9ZM220.3 758L225.9 765.5L220.3 773L214.7 765.5ZM222.5 750.2L228.1 757.7L222.5 765.2L216.9 757.7ZM222.8 748.8L228.4 756.3L222.8 763.8L217.2 756.3ZM225.5 758.1L231.1 765.6L225.5 773.1L219.9 765.6ZM226.3 753.7L231.9 761.2L226.3 768.7L220.7 761.2ZM230.1 765.5L235.7 773L230.1 780.5L224.5 773ZM229.7 766.6L235.3 774.1L229.7 781.6L224.1 774.1ZM232.9 759.2L238.5 766.7L232.9 774.2L227.3 766.7ZM234.2 761.7L239.8 769.2L234.2 776.7L228.6 769.2ZM235.1 766.4L240.7 773.9L235.1 781.4L229.5 773.9ZM237.7 764.7L243.3 772.2L237.7 779.7L232.1 772.2ZM240.3 763.1L245.9 770.6L240.3 778.1L234.7 770.6ZM242 762.1L247.6 769.6L242 777.1L236.4 769.6ZM244.8 770.9L250.4 778.4L244.8 785.9L239.2 778.4ZM246.7 768.7L252.3 776.2L246.7 783.7L241.1 776.2ZM248.4 776.1L254 783.6L248.4 791.1L242.8 783.6ZM250.1 776.3L255.7 783.8L250.1 791.3L244.5 783.8ZM253.3 776.2L258.9 783.7L253.3 791.2L247.7 783.7ZM255.3 777.8L260.9 785.3L255.3 792.8L249.7 785.3ZM257.1 777.5L262.7 785L257.1 792.5L251.5 785ZM258.7 770.9L264.3 778.4L258.7 785.9L253.1 778.4ZM259.9 771.1L265.5 778.6L259.9 786.1L254.3 778.6ZM261.9 778.4L267.5 785.9L261.9 793.4L256.3 785.9ZM264.1 779.5L269.7 787L264.1 794.5L258.5 787ZM265.2 779.3L270.8 786.8L265.2 794.3L259.6 786.8ZM266.6 784.5L272.2 792L266.6 799.5L261 792ZM269.2 783L274.8 790.5L269.2 798L263.6 790.5ZM270.2 782.7L275.8 790.2L270.2 797.7L264.6 790.2ZM272.8 781.6L278.4 789.1L272.8 796.6L267.2 789.1ZM274 782.1L279.6 789.6L274 797.1L268.4 789.6ZM275.5 787.4L281.1 794.9L275.5 802.4L269.9 794.9ZM278 788.7L283.6 796.2L278 803.7L272.4 796.2ZM280.9 786.7L286.5 794.2L280.9 801.7L275.3 794.2ZM281.2 787.2L286.8 794.7L281.2 802.2L275.6 794.7ZM283.3 790.7L288.9 798.2L283.3 805.7L277.7 798.2ZM285.6 784.3L291.2 791.8L285.6 799.3L280 791.8ZM287.7 783.6L293.3 791.1L287.7 798.6L282.1 791.1ZM289.7 787.9L295.3 795.4L289.7 802.9L284.1 795.4ZM291.5 786L297.1 793.5L291.5 801L285.9 793.5ZM294 786.2L299.6 793.7L294 801.2L288.4 793.7ZM295.5 784.6L301.1 792.1L295.5 799.6L289.9 792.1ZM62 637.1L67.6 644.6L62 652.1L56.4 644.6ZM67 663.2L72.6 670.7L67 678.2L61.4 670.7ZM72 638.1L77.6 645.6L72 653.1L66.4 645.6ZM77 674.9L82.6 682.4L77 689.9L71.4 682.4ZM82 646.6L87.6 654.1L82 661.6L76.4 654.1ZM87 684.6L92.6 692.1L87 699.6L81.4 692.1ZM92.8 656.3L98.4 663.8L92.8 671.3L87.2 663.8ZM97.8 693.1L103.4 700.6L97.8 708.1L92.2 700.6ZM101.5 664.1L107.1 671.6L101.5 679.1L95.9 671.6ZM106.5 699.8L112.1 707.3L106.5 714.8L100.9 707.3ZM109.5 670.2L115.1 677.7L109.5 685.2L103.9 677.7ZM114.5 705.5L120.1 713L114.5 720.5L108.9 713ZM119.4 677.3L125 684.8L119.4 692.3L113.8 684.8ZM124.4 712.6L130 720.1L124.4 727.6L118.8 720.1ZM129.6 685.2L135.2 692.7L129.6 700.2L124 692.7ZM134.6 715.3L140.2 722.8L134.6 730.3L129 722.8ZM139.1 691.3L144.7 698.8L139.1 706.3L133.5 698.8ZM144.1 718.9L149.7 726.4L144.1 733.9L138.5 726.4ZM146.3 696.5L151.9 704L146.3 711.5L140.7 704ZM151.3 722.3L156.9 729.8L151.3 737.3L145.7 729.8ZM155.1 702.3L160.7 709.8L155.1 717.3L149.5 709.8ZM160.1 729.4L165.7 736.9L160.1 744.4L154.5 736.9ZM163.2 706.9L168.8 714.4L163.2 721.9L157.6 714.4ZM168.2 734.7L173.8 742.2L168.2 749.7L162.6 742.2ZM173.3 711.9L178.9 719.4L173.3 726.9L167.7 719.4ZM178.3 741.6L183.9 749.1L178.3 756.6L172.7 749.1ZM184.1 717.3L189.7 724.8L184.1 732.3L178.5 724.8ZM189.1 745.3L194.7 752.8L189.1 760.3L183.5 752.8ZM191.5 723.9L197.1 731.4L191.5 738.9L185.9 731.4ZM196.5 751.9L202.1 759.4L196.5 766.9L190.9 759.4ZM201 731.1L206.6 738.6L201 746.1L195.4 738.6ZM206 756.9L211.6 764.4L206 771.9L200.4 764.4ZM210.8 738.2L216.4 745.7L210.8 753.2L205.2 745.7ZM215.8 765.6L221.4 773.1L215.8 780.6L210.2 773.1ZM220.3 744.1L225.9 751.6L220.3 759.1L214.7 751.6ZM225.3 771.3L230.9 778.8L225.3 786.3L219.7 778.8ZM228.3 750.2L233.9 757.7L228.3 765.2L222.7 757.7ZM233.3 777.5L238.9 785L233.3 792.5L227.7 785ZM238.8 755.2L244.4 762.7L238.8 770.2L233.2 762.7ZM243.8 780.1L249.4 787.6L243.8 795.1L238.2 787.6ZM246.9 761.2L252.5 768.7L246.9 776.2L241.3 768.7ZM251.9 785.5L257.5 793L251.9 800.5L246.3 793ZM254.3 765.3L259.9 772.8L254.3 780.3L248.7 772.8ZM259.3 787.2L264.9 794.7L259.3 802.2L253.7 794.7ZM261.7 769.4L267.3 776.9L261.7 784.4L256.1 776.9ZM266.7 792.6L272.3 800.1L266.7 807.6L261.1 800.1ZM271.2 773.5L276.8 781L271.2 788.5L265.6 781ZM276.2 796.8L281.8 804.3L276.2 811.8L270.6 804.3ZM279 777.5L284.6 785L279 792.5L273.4 785ZM284 798.3L289.6 805.8L284 813.3L278.4 805.8ZM289.4 779.1L295 786.6L289.4 794.1L283.8 786.6ZM294.4 795.8L300 803.3L294.4 810.8L288.8 803.3ZM299.6 782.6L305.2 790.1L299.6 797.6L294 790.1ZM304.6 799.1L310.2 806.6L304.6 814.1L299 806.6ZM307.5 783.7L313.1 791.2L307.5 798.7L301.9 791.2ZM312.5 799.3L318.1 806.8L312.5 814.3L306.9 806.8ZM317.7 786.2L323.3 793.7L317.7 801.2L312.1 793.7ZM322.7 800.2L328.3 807.7L322.7 815.2L317.1 807.7ZM328.7 790.6L334.3 798.1L328.7 805.6L323.1 798.1ZM333.7 793.1L339.3 800.6L333.7 808.1L328.1 800.6Z" fill="none" stroke="#000" stroke-width="2" stroke-linejoin="miter" stroke-miterlimit="10"/>
<path d="M60 649.7C61 650.6 64 653.3 66 655.1C68 656.9 70 658.6 72 660.4C74 662.2 76 663.9 78 665.7C80 667.4 82 669.1 84 670.8C86 672.6 88 674.3 90 676C92 677.7 94 679.4 96 681.1C98 682.7 100 684.4 102 686.1C104 687.7 106 689.4 108 691C110 692.6 112 694.3 114 695.9C116 697.5 118 699.1 120 700.7C122 702.3 124 703.8 126 705.4C128 707 130 708.5 132 710.1C134 711.6 136 713.1 138 714.7C140 716.2 142 717.7 144 719.2C146 720.7 148 722.1 150 723.6C152 725.1 154 726.5 156 728C158 729.4 160 730.8 162 732.2C164 733.6 166 735 168 736.4C170 737.8 172 739.2 174 740.5C176 741.9 178 743.2 180 744.5C182 745.9 184 747.2 186 748.5C188 749.8 190 751 192 752.3C194 753.6 196 754.8 198 756.1C200 757.3 202 758.5 204 759.7C206 760.9 208 762.1 210 763.3C212 764.4 214 765.6 216 766.7C218 767.9 220 769 222 770.1C224 771.2 226 772.3 228 773.4C230 774.5 232 775.5 234 776.5C236 777.6 238 778.6 240 779.6C242 780.6 244 781.6 246 782.6C248 783.5 250 784.5 252 785.4C254 786.4 256 787.3 258 788.2C260 789.1 262 790 264 790.8C266 791.7 268 792.5 270 793.3C272 794.2 274 795 276 795.8C278 796.5 280 797.3 282 798.1C284 798.8 286 799.5 288 800.2C290 800.9 292 801.6 294 802.3C296 803 298 803.6 300 804.2C302 804.9 304.8 805.7 306 806.1C307.2 806.4 306.8 806.3 307 806.4" fill="none" stroke="#e8161e" stroke-width="3"/>
<path d="M79.8 832.3L85.4 839.8L79.8 847.3L74.2 839.8Z" fill="none" stroke="#000" stroke-width="2" stroke-linejoin="miter" stroke-miterlimit="10"/>
<path d="M68.1 861.7H91" stroke="#e8161e" stroke-width="3"/>
<text x="93.5" y="846.7" class="l">Toroidal Velocity</text>
<text x="93.5" y="868.1" class="l">Spline−fit</text>
</svg></body></html>
